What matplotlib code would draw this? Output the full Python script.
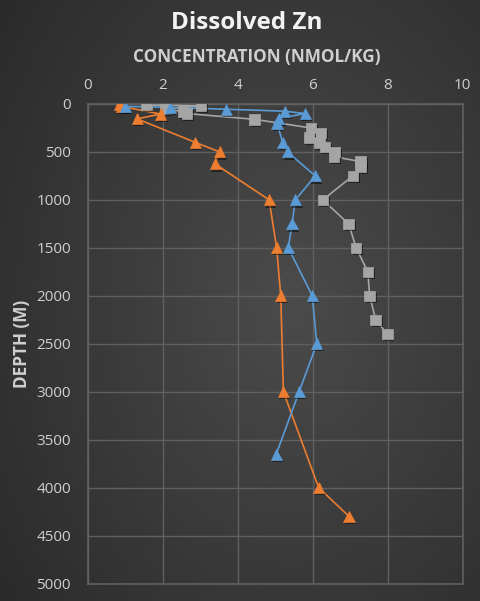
import numpy as np
import matplotlib

matplotlib.use('Agg')
import matplotlib.pyplot as plt
import matplotlib.patheffects as pe

plt.rcParams['font.family'] = ['Open Sans', 'DejaVu Sans']

# Dissolved Zn profiles (concentration in nmol/kg, depth in m)
blue_conc = [1.0, 2.2, 3.7, 5.25, 5.8, 5.1, 5.05, 5.2, 5.33, 6.07, 5.54, 5.45, 5.35, 5.99, 6.11, 5.64, 5.03]
blue_depth = [25, 35, 55, 75, 100, 150, 200, 400, 500, 750, 1000, 1250, 1500, 2000, 2500, 3000, 3650]

orange_conc = [0.85, 0.9, 1.95, 1.32, 2.87, 3.52, 3.40, 4.84, 5.04, 5.15, 5.22, 6.16, 6.97]
orange_depth = [5, 25, 105, 155, 400, 500, 625, 1000, 1500, 2000, 3000, 4000, 4300]

gray_conc = [1.57, 3.02, 2.08, 2.55, 2.65, 4.45, 5.95, 6.22, 5.9, 6.18, 6.33, 6.6, 6.57, 7.28, 7.28,
             7.07, 6.27, 6.96, 7.16, 7.47, 7.52, 7.68, 7.99]
gray_depth = [10, 20, 50, 80, 100, 160, 250, 300, 350, 400, 450, 500, 550, 600, 650,
              750, 1000, 1250, 1500, 1750, 2000, 2250, 2400]

x_ticks = [0, 2, 4, 6, 8, 10]
y_ticks = [0, 500, 1000, 1500, 2000, 2500, 3000, 3500, 4000, 4500, 5000]

BLUE = '#5b9bd5'
ORANGE = '#ed7d31'
GRAY = '#a5a5a5'
TEXT = '#cfcfcf'
GRID = '#606060'

fig = plt.figure(figsize=(4.81, 6.01), dpi=100)

# dark radial background
bg = fig.add_axes([0, 0, 1, 1], zorder=-10)
yy, xx = np.mgrid[0:1:300j, 0:1:240j]
r = np.sqrt(((xx - 0.6) / 1.0) ** 2 + ((yy - 0.5) / 1.1) ** 2)
shade = 0.295 - 0.17 * r
bg.imshow(np.dstack([shade, shade, shade]).clip(0, 1), extent=[0, 1, 0, 1],
          aspect='auto', interpolation='bicubic')
bg.axis('off')

ax = fig.add_axes([0.182, 0.029, 0.780, 0.798])
ax.patch.set_alpha(0)

shadow = [pe.SimplePatchShadow(offset=(1.2, -1.5), shadow_rgbFace='black', alpha=0.45), pe.Normal()]

series = [
    (gray_conc, gray_depth, GRAY, 's', 7.5),
    (orange_conc, orange_depth, ORANGE, '^', 8),
    (blue_conc, blue_depth, BLUE, '^', 8),
]
for conc, depth, color, marker, size in series:
    ax.plot(conc, depth, color=color, linewidth=1.2, zorder=3)
    ax.plot(conc, depth, linestyle='none', marker=marker, markersize=size,
            markerfacecolor=color, markeredgecolor=color, markeredgewidth=0.5,
            path_effects=shadow, zorder=4)

ax.set_xlim(0, 10)
ax.set_ylim(5000, 0)
ax.set_xticks(x_ticks)
ax.set_yticks(y_ticks)
ax.xaxis.tick_top()
ax.tick_params(length=0, colors=TEXT, labelsize=11, pad=12)
ax.tick_params(axis='x', pad=8)
ax.grid(True, color=GRID, linewidth=1.0)
ax.set_axisbelow(True)
for spine in ax.spines.values():
    spine.set_color(GRID)
    spine.set_linewidth(1.2)

ax.set_ylabel('DEPTH (M)', color=TEXT, fontsize=12.3, fontweight='bold', labelpad=4)

# axis title and chart title placed in figure coordinates
fig.text(0.533, 0.905, 'CONCENTRATION (NMOL/KG)', color=TEXT, fontsize=12.3,
         fontweight='bold', ha='center', va='center')
fig.text(0.512, 0.962, 'Dissolved Zn', color='#f2f2f2', fontsize=17.5, fontweight='bold',
         ha='center', va='center')

fig.savefig('out.png', dpi=100)
